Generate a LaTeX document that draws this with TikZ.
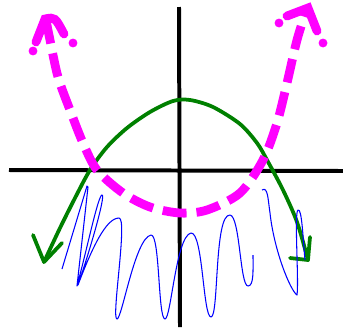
\documentclass[tikz,border=0pt]{standalone}
\usetikzlibrary{calc}
\definecolor{fuchsia}{RGB}{255,0,255}
\definecolor{leaf}{RGB}{0,128,0}
\begin{document}
\begin{tikzpicture}[x=0.03cm,y=-0.03cm,
  axis/.style={black,line width=3.4pt},
  hill/.style={leaf,line width=3.2pt,line cap=round,line join=round},
  valley/.style={fuchsia,line width=7.5pt},
  scrib/.style={blue,line width=0.9pt,line join=round}]
  \useasboundingbox (0,0) rectangle (343,329);
  % axes
  \draw[axis](9,170)--(343,171);
  \draw[axis](179,7)--(180,327);
  % green curve, opening down
  \coordinate (gl) at (44,262); \coordinate (gr) at (308,260);
  \draw[hill] plot[smooth] coordinates {(gl) (60,228) (75,198) (90,170) (107,147) (127,128) (150,112) (173,101)
    (190,100) (213,107) (240,124) (257,143) (267,160) (283,190) (297,222) (gr)};
  \draw[hill](33,235)--(gl)--(62,243);
  \draw[hill](310,237)--(gr)--(290,258);
  % magenta dashed curve, opening up
  \draw[valley,dash pattern=on 20.5pt off 8.5pt] plot[smooth] coordinates {(46,20) (50,40) (58,77) (70,110) (83,143)
    (97,170) (123,193) (150,207) (180,213) (207,210) (240,193) (263,160) (277,123) (287,83) (297,40) (307,8)};
  \draw[valley,line cap=round](36,42)--(45,19)..controls(55,17)..(64,34);
  \draw[valley,line cap=round](287,16)--(308,8)--(317,31);
  \foreach \p in {(33,51),(73,43),(279,23),(323,43)} \fill[fuchsia] \p circle[radius=3.8pt];
  % blue shading scribble
  \draw[scrib](62,269)--(87,186)--(88,187)--(77,286)
    .. controls (88,245) and (98,196) .. (102,195) .. controls (106,195) and (90,250) .. (78,285)
    .. controls (92,248) and (106,218) .. (119,218)
    .. controls (128,218) and (111,319) .. (117,319)
    .. controls (122,319) and (135,238) .. (151,235)
    .. controls (160,234) and (158,319) .. (165,319)
    .. controls (171,319) and (176,236) .. (191,233)
    .. controls (203,232) and (203,317) .. (211,317)
    .. controls (219,317) and (214,214) .. (230,215)
    .. controls (240,216) and (240,286) .. (248,286)
    .. controls (254,286) and (253,270) .. (253,255);
  \draw[scrib](262,190) .. controls (268,186) and (268,200) .. (270,213)
    .. controls (274,250) and (290,290) .. (297,295)
    .. controls (299,280) and (294,212) .. (298,210)
    .. controls (302,208) and (303,240) .. (305,260);
\end{tikzpicture}
\end{document}
